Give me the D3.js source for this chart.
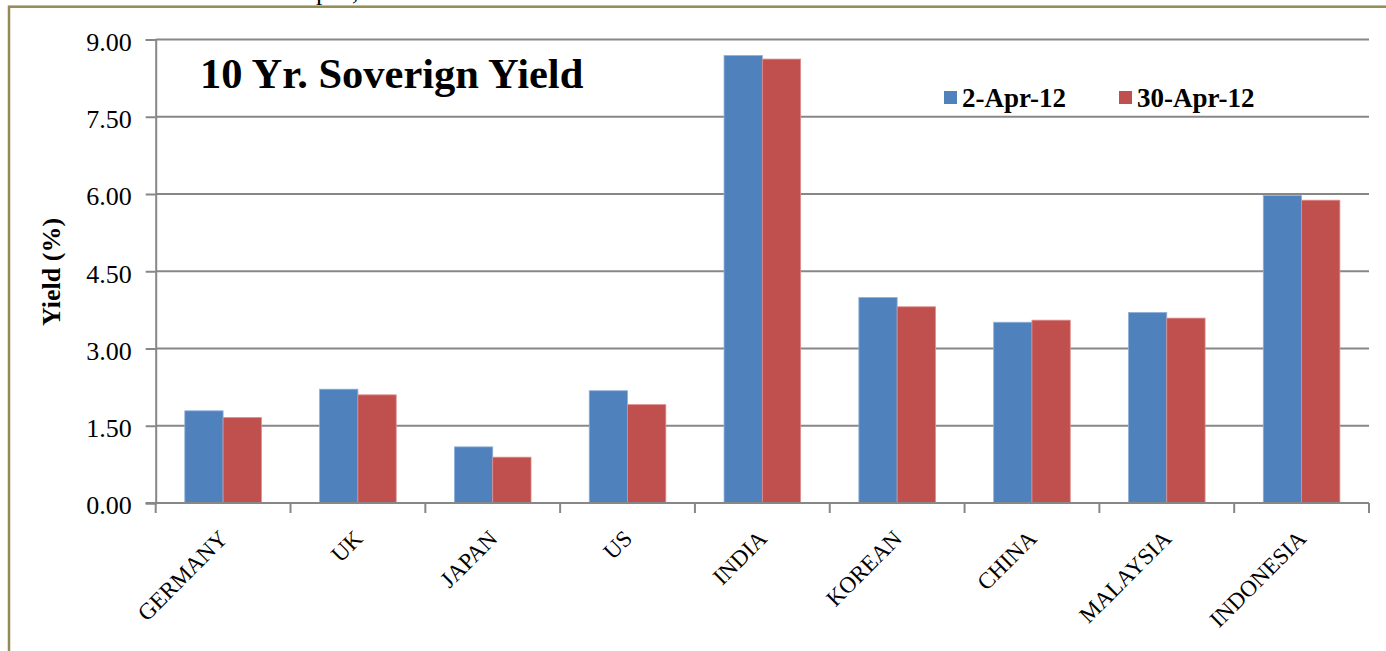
<!DOCTYPE html>
<html>
<head>
<meta charset="utf-8">
<script src="https://cdn.jsdelivr.net/npm/d3@7"></script>
<style>
  body { margin: 0; background: #fff; }
  svg { display: block; font-family: "Liberation Serif", "Times New Roman", serif; }
</style>
</head>
<body>
<div id="chart"></div>
<script>
const countries = ["GERMANY", "UK", "JAPAN", "US", "INDIA", "KOREAN", "CHINA", "MALAYSIA", "INDONESIA"];
const series = ["2-Apr-12", "30-Apr-12"];
const apr2  = [1.79, 2.21, 1.09, 2.18, 8.69, 3.99, 3.51, 3.70, 5.97];
const apr30 = [1.66, 2.10, 0.89, 1.91, 8.62, 3.81, 3.55, 3.59, 5.88];
const yTicks = [0, 1.5, 3, 4.5, 6, 7.5, 9];
const colors = ["#4F81BD", "#C0504D"];

const width = 1386, height = 651;
const plot = {left: 155.7, right: 1369, top: 39.5, bottom: 503};

const svg = d3.select("#chart").append("svg")
  .attr("width", width)
  .attr("height", height);

svg.append("rect").attr("width", width).attr("height", height).attr("fill", "#fff");

// cropped text from the page above
svg.append("text")
  .attr("x", 316).attr("y", 0)
  .attr("font-size", 26)
  .text("pril,");

// outer frame
svg.append("rect")
  .attr("x", 9).attr("y", 6.7)
  .attr("width", 1500).attr("height", 800)
  .attr("fill", "none")
  .attr("stroke", "#948A54")
  .attr("stroke-width", 2.5);

const data = countries.map((c, i) => ({country: c, values: [apr2[i], apr30[i]]}));

const x0 = d3.scaleBand().domain(countries).range([plot.left, plot.right]).padding(0);
const x1 = d3.scaleBand().domain(series).range([0, x0.bandwidth()]).paddingOuter(0.76);
const y = d3.scaleLinear().domain([0, 9]).range([plot.bottom, plot.top]);

// gridlines
svg.append("g").selectAll("line").data(yTicks.filter(d => d > 0)).join("line")
  .attr("x1", plot.left).attr("x2", plot.right)
  .attr("y1", d => y(d)).attr("y2", d => y(d))
  .attr("stroke", "#878787")
  .attr("stroke-width", 2);

// bars
svg.append("g").selectAll("g").data(data).join("g")
  .attr("transform", d => `translate(${x0(d.country)},0)`)
  .selectAll("rect").data(d => d.values.map((v, i) => ({key: series[i], v, i}))).join("rect")
  .attr("x", d => x1(d.key))
  .attr("y", d => y(d.v))
  .attr("width", x1.bandwidth())
  .attr("height", d => y(0) - y(d.v))
  .attr("fill", d => colors[d.i])
  .attr("stroke", d => d.i === 0 ? "#8fb0da" : "#dd8e8c")
  .attr("stroke-width", 0.8);

// y axis
const yAxis = svg.append("g")
  .attr("transform", `translate(${plot.left},0)`)
  .call(d3.axisLeft(y).tickValues(yTicks).tickFormat(d3.format(".2f")).tickSize(10).tickPadding(14));
yAxis.select(".domain").attr("stroke", "#878787").attr("stroke-width", 2);
yAxis.selectAll(".tick line").attr("stroke", "#878787").attr("stroke-width", 2);
yAxis.selectAll(".tick text")
  .attr("font-family", "Liberation Serif, serif")
  .attr("font-size", 26)
  .attr("fill", "#000")
  .attr("dy", "0.42em");

// x axis baseline and ticks at category edges
const xg = svg.append("g");
xg.append("line")
  .attr("x1", plot.left - 10).attr("x2", plot.right)
  .attr("y1", plot.bottom).attr("y2", plot.bottom)
  .attr("stroke", "#878787").attr("stroke-width", 2);
const edges = countries.map(c => x0(c)).concat([plot.right]);
xg.selectAll("line.edge").data(edges).join("line")
  .attr("class", "edge")
  .attr("x1", d => d).attr("x2", d => d)
  .attr("y1", plot.bottom).attr("y2", plot.bottom + 10)
  .attr("stroke", "#878787").attr("stroke-width", 2);

// category labels
svg.append("g").selectAll("text").data(countries).join("text")
  .attr("transform", d => `translate(${x0(d) + x0.bandwidth() / 2 + 6},540) rotate(-45)`)
  .attr("text-anchor", "end")
  .attr("font-size", 23)
  .text(d => d);

// y axis title
svg.append("text")
  .attr("transform", "translate(60,272) rotate(-90)")
  .attr("text-anchor", "middle")
  .attr("font-size", 26)
  .attr("font-weight", "bold")
  .text("Yield (%)");

// chart title
svg.append("text")
  .attr("x", 200).attr("y", 88)
  .attr("font-size", 42.5)
  .attr("font-weight", "bold")
  .text("10 Yr. Soverign Yield");

// legend
const legendX = [944, 1119];
const legend = svg.append("g").selectAll("g").data(series).join("g")
  .attr("transform", (d, i) => `translate(${legendX[i]},91)`);
legend.append("rect")
  .attr("width", 13).attr("height", 13)
  .attr("fill", (d, i) => colors[i]);
legend.append("text")
  .attr("x", 18).attr("y", 16)
  .attr("font-size", 27)
  .attr("font-weight", "bold")
  .text(d => d);
</script>
</body>
</html>
